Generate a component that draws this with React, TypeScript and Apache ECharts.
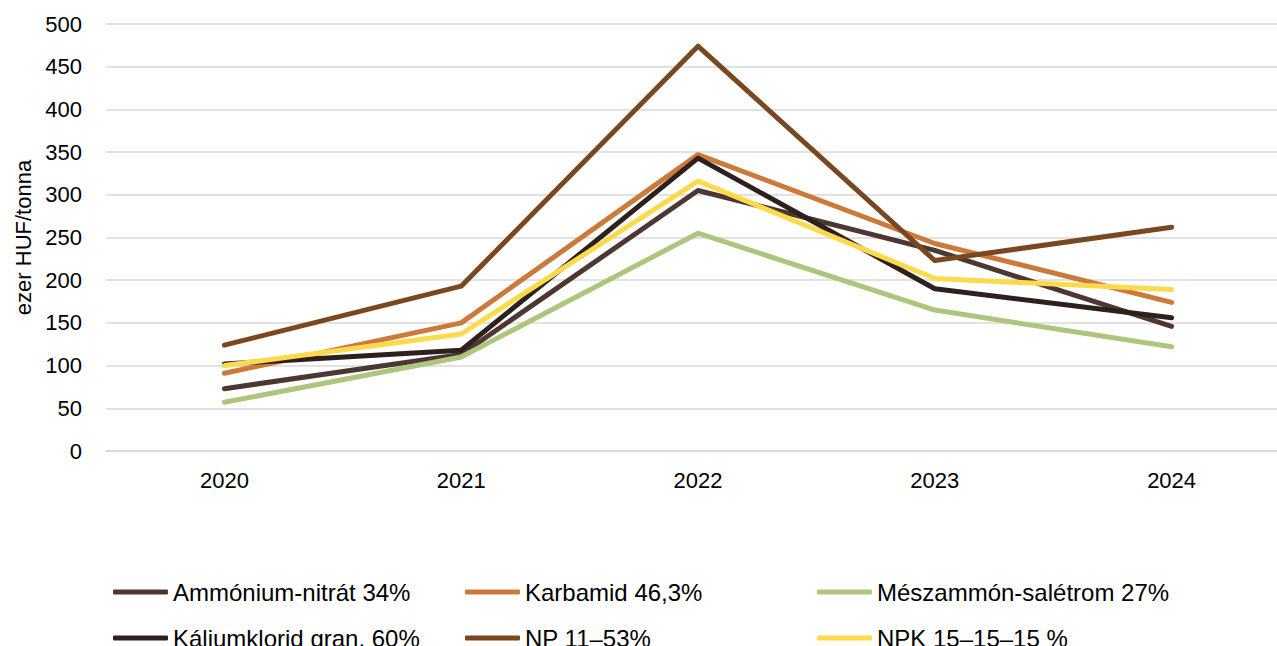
import React, { useEffect, useRef } from "react";
import * as echarts from "echarts";

const years = ["2020", "2021", "2022", "2023", "2024"];
const seriesNames = [
  "Ammónium-nitrát 34%",
  "Karbamid 46,3%",
  "Mészammón-salétrom 27%",
  "Káliumklorid gran. 60%",
  "NP 11–53%",
  "NPK 15–15–15 %",
];
const ammonium = [73, 113, 305, 235, 146];
const karbamid = [91, 150, 347, 243, 174];
const meszammon = [57, 110, 255, 165, 122];
const kalium = [102, 118, 343, 190, 156];
const np = [124, 193, 474, 223, 262];
const npk = [100, 137, 316, 202, 189];
const yTicks = [0, 50, 100, 150, 200, 250, 300, 350, 400, 450, 500];

const colors = ["#4E3733", "#CB7A3B", "#AEC57D", "#2E201D", "#7A4820", "#FDDA4B"];
const values = [ammonium, karbamid, meszammon, kalium, np, npk];

export default function App() {
  const ref = useRef<HTMLDivElement>(null);
  useEffect(() => {
    if (!ref.current) return;
    const chart = echarts.init(ref.current, undefined, { renderer: "svg" });
    const font = "Liberation Sans, Arial, sans-serif";
    chart.setOption({
      animation: false,
      grid: { left: 106, width: 1184, top: 24, height: 427, containLabel: false },
      xAxis: {
        type: "category",
        data: years,
        boundaryGap: true,
        axisLine: { show: true, lineStyle: { color: "#d9d9d9", width: 1.5 } },
        axisTick: { show: false },
        axisLabel: { color: "#000", fontSize: 22, fontFamily: font, margin: 18 },
        splitLine: { show: false },
      },
      yAxis: {
        type: "value",
        min: yTicks[0],
        max: yTicks[yTicks.length - 1],
        interval: 50,
        name: "ezer HUF/tonna",
        nameLocation: "middle",
        nameGap: 72,
        nameRotate: 90,
        nameTextStyle: { color: "#000", fontSize: 22, fontFamily: font },
        axisLine: { show: false },
        axisTick: { show: false },
        axisLabel: { color: "#000", fontSize: 22, fontFamily: font, margin: 24 },
        splitLine: { lineStyle: { color: "#d9d9d9", width: 1.5 } },
      },
      legend: {
        left: 108,
        top: 572,
        width: 1090,
        orient: "horizontal",
        icon: "roundRect",
        itemWidth: 55,
        itemHeight: 5,
        itemGap: 16,
        textStyle: {
          color: "#000",
          fontSize: 24,
          fontFamily: font,
          width: 276,
          lineHeight: 30,
          overflow: "none",
        },
        data: seriesNames,
      },
      series: seriesNames.map((name, i) => ({
        name,
        type: "line",
        data: values[i],
        symbol: "none",
        color: colors[i],
        lineStyle: { width: 5, color: colors[i], cap: "round", join: "round" },
        itemStyle: { color: colors[i] },
      })),
    });
    return () => chart.dispose();
  }, []);
  return (
    <div
      style={{
        position: "absolute",
        left: 0,
        top: 0,
        width: 1277,
        height: 646,
        overflow: "hidden",
      }}
    >
      <div ref={ref} style={{ width: 1300, height: 646 }} />
    </div>
  );
}
